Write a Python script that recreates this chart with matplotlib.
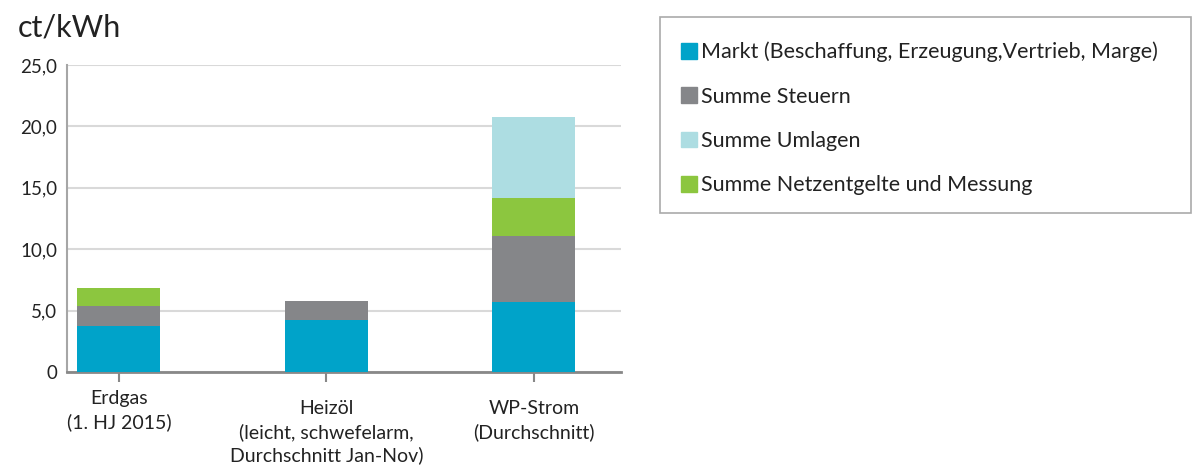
import matplotlib.pyplot as plt
from matplotlib.patches import Rectangle, Patch
import numpy as np

plt.rcParams['font.family'] = ['Lato', 'DejaVu Sans']

# Daten (ct/kWh)
kategorien = ['Erdgas\n(1. HJ 2015)',
              'Heizöl\n(leicht, schwefelarm,\nDurchschnitt Jan-Nov)',
              'WP-Strom\n(Durchschnitt)']
markt = [3.76, 4.25, 5.67]
steuern = [1.64, 1.55, 5.37]
netz = [1.47, 0.0, 3.10]
umlagen = [0.0, 0.0, 6.62]

farben = {'markt': '#00a3c9', 'steuern': '#858689',
          'netz': '#8cc63f', 'umlagen': '#addde2'}
labels = {'markt': 'Markt (Beschaffung, Erzeugung,Vertrieb, Marge)',
          'steuern': 'Summe Steuern',
          'umlagen': 'Summe Umlagen',
          'netz': 'Summe Netzentgelte und Messung'}

fig = plt.figure(figsize=(11.93, 4.67), dpi=100)
ax = fig.add_axes([0.0562, 0.2034, 0.4643, 0.6576])

x = np.arange(len(kategorien))
b = 0.4
unten = np.zeros(len(x))
for key, werte in [('markt', markt), ('steuern', steuern),
                   ('netz', netz), ('umlagen', umlagen)]:
    ax.bar(x, werte, b, bottom=unten, color=farben[key], zorder=3)
    unten += np.array(werte)

ax.set_xlim(-0.25, 2.42)
ax.set_ylim(0, 25)
ax.set_yticks([0, 5, 10, 15, 20, 25])
ax.set_yticklabels(['0', '5,0', '10,0', '15,0', '20,0', '25,0'],
                   fontsize=13.5, color='#222222')
ax.set_xticks(x)
ax.set_xticklabels([])
ax.tick_params(axis='y', length=0, pad=7)
ax.tick_params(axis='x', length=7, width=1.5, color='#888888',
               direction='out')
# Kategorienamen, Erdgas etwas höher wie im Original
versatz = [-13, -20, -20]
for xi, name, dy in zip(x, kategorien, versatz):
    ax.annotate(name, xy=(xi, 0), xycoords='data', xytext=(0, dy),
                textcoords='offset points', ha='center', va='top',
                fontsize=14, color='#222222', linespacing=1.4,
                annotation_clip=False)
ax.grid(axis='y', color='#d9d9d9', linewidth=1.5, zorder=0)
for s in ['top', 'right']:
    ax.spines[s].set_visible(False)
ax.spines['left'].set_color('#a6a6a6')
ax.spines['left'].set_linewidth(1.5)
ax.spines['bottom'].set_color('#888888')
ax.spines['bottom'].set_linewidth(2)

fig.text(18 / 1193, 1 - 27 / 467, 'ct/kWh', fontsize=22, color='#222222',
         va='center', ha='left')

# Legendenkasten
fig.patches.append(Rectangle((660 / 1193, 1 - 213 / 467), 531 / 1193, 196 / 467,
                             transform=fig.transFigure, fill=False,
                             edgecolor='#aaaaaa', linewidth=1.2))
handles = [Patch(color=farben[k]) for k in ['markt', 'steuern', 'umlagen', 'netz']]
fig.legend(handles, [labels[k] for k in ['markt', 'steuern', 'umlagen', 'netz']],
           loc='upper left', bbox_to_anchor=(670 / 1193, 1 - 31 / 467),
           frameon=False, fontsize=15.5, handlelength=0.75, handleheight=0.75,
           handletextpad=0.2, labelspacing=1.13, borderpad=0,
           labelcolor='#222222')

fig.savefig('out.png', dpi=100)
